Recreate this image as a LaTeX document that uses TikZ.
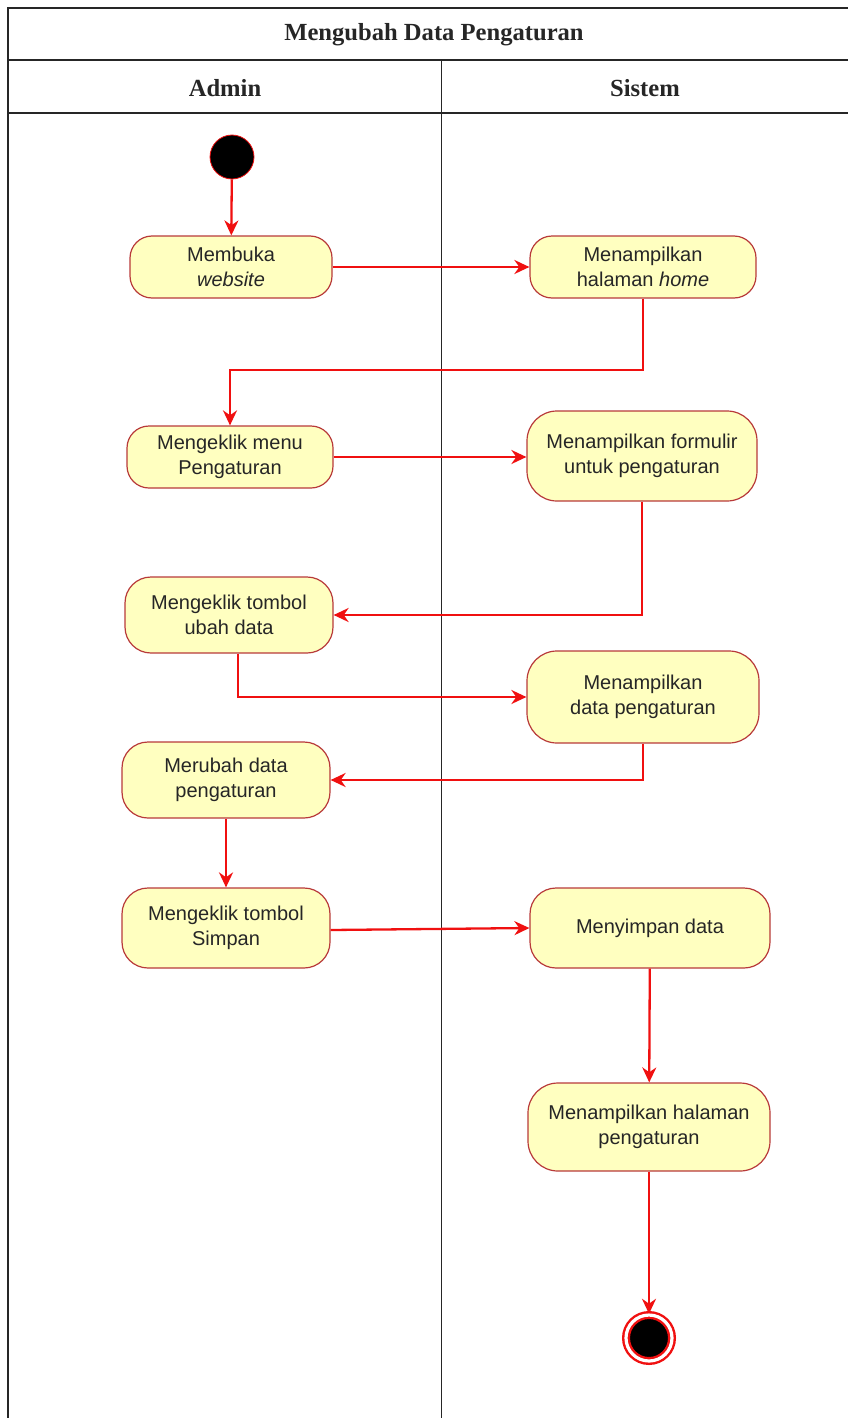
\documentclass[tikz,border=0pt]{standalone}
\usepackage{fontspec}
\setmainfont{Liberation Sans}
\newfontfamily\headfont{Liberation Serif}
\usetikzlibrary{arrows.meta,positioning}
\definecolor{actfill}{HTML}{FFFFC0}
\definecolor{actline}{HTML}{B83A3A}
\definecolor{flowred}{HTML}{F01010}
\definecolor{laneink}{HTML}{262626}
\definecolor{acttext}{HTML}{262626}

\begin{document}
\begin{tikzpicture}[
  x=0.5pt, y=-0.5pt,
  font=\fontsize{10}{12.8}\selectfont,
  act/.style={draw=actline, line width=0.6pt, fill=actfill, rounded corners=11pt,
              align=center, inner sep=2pt, text=acttext},
  arr/.style={-{Stealth[length=7.5pt,width=7pt]}, flowred, line width=1.15pt},
  hdr/.style={font=\headfont\bfseries\fontsize{12.3}{14}\selectfont, text=laneink}
]
  \useasboundingbox (0,0) rectangle (848,1418);
  % swimlane frame
  \draw[laneink, line width=0.8pt] (8,1418) -- (8,8) -- (848,8);
  \draw[laneink, line width=0.8pt] (8,60) -- (848,60);
  \draw[laneink, line width=0.8pt] (8,113) -- (848,113);
  \draw[laneink, line width=0.5pt] (441,60) -- (441,1418);
  \node[hdr] (title) at (434,35) {Mengubah Data Pengaturan};
  \node[hdr] (admin) at (225,88) {Admin};
  \node[hdr] (sistem) at (645,88) {Sistem};

  % activities
  \node[circle, fill=black, draw=flowred, line width=0.4pt, minimum size=22pt, inner sep=0pt] (start) at (232,157) {};
  \node[act, minimum width=101pt, minimum height=31pt] (buka) at (231,267) {Membuka\\\textit{website}};
  \node[act, minimum width=113pt, minimum height=31pt] (home) at (643,267) {Menampilkan\\halaman \textit{home}};
  \node[act, minimum width=103pt, minimum height=31pt] (menu) at (230,457) {Mengeklik menu\\Pengaturan};
  \node[act, minimum width=115pt, minimum height=45pt, rounded corners=15pt] (form) at (642,456) {Menampilkan formulir\\untuk pengaturan};
  \node[act, minimum width=104pt, minimum height=38pt, rounded corners=13pt] (ubah) at (229,615) {Mengeklik tombol\\ubah data};
  \node[act, minimum width=116pt, minimum height=46pt, rounded corners=15pt] (tampil) at (643,697) {Menampilkan\\data pengaturan};
  \node[act, minimum width=104pt, minimum height=38pt, rounded corners=13pt] (rubah) at (226,780) {Merubah data\\pengaturan};
  \node[act, minimum width=104pt, minimum height=40pt, rounded corners=13pt] (klik) at (226,928) {Mengeklik tombol\\Simpan};
  \node[act, minimum width=120pt, minimum height=40pt, rounded corners=13pt] (simpan) at (650,928) {Menyimpan data};
  \node[act, minimum width=121pt, minimum height=44pt, rounded corners=15pt] (hasil) at (649,1127) {Menampilkan halaman\\pengaturan};
  \node[circle, fill=black, draw=flowred, line width=1.2pt, double=white, double distance=1.6pt,
        minimum size=23pt, inner sep=0pt] (stop) at (649,1338) {};

  % flows
  \draw[arr] (start) -- (buka);
  \draw[arr] (buka) -- (home);
  \draw[arr] (home.south) -- (home.south |- 0,370) -| (menu.north);
  \draw[arr] (menu) -- (form.west |- menu);
  \draw[arr] (form.south) |- (ubah.east);
  \draw[arr] ([xshift=4.5pt]ubah.south) |- (tampil.west);
  \draw[arr] (tampil.south) |- (rubah.east);
  \draw[arr] (rubah) -- (klik);
  \draw[arr] ([yshift=-1pt]klik.east) -- (simpan.west);
  \draw[arr] (simpan) -- (hasil);
  \draw[arr] (hasil) -- (stop);
\end{tikzpicture}
\end{document}
